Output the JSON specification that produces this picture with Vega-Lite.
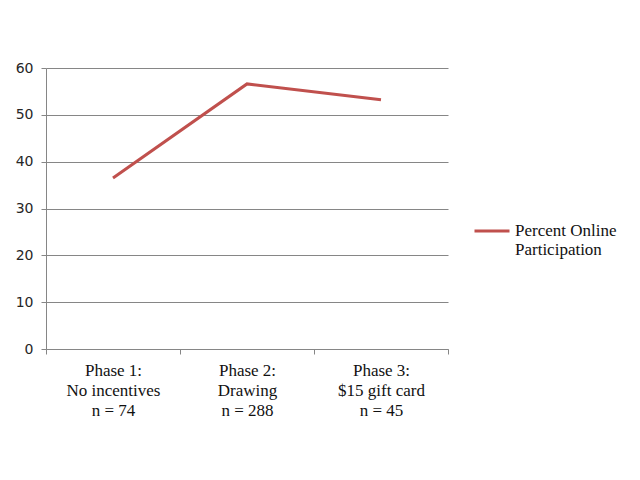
{
  "$schema": "https://vega.github.io/schema/vega-lite/v6.json",
  "width": 402,
  "height": 281,
  "autosize": "none",
  "padding": {"left": 46, "top": 68, "right": 192, "bottom": 131},
  "background": "white",
  "data": {"values": [
    {"phase": "Phase 1", "value": 36.5, "series": "Percent Online Participation"},
    {"phase": "Phase 2", "value": 56.6, "series": "Percent Online Participation"},
    {"phase": "Phase 3", "value": 53.2, "series": "Percent Online Participation"}
  ]},
  "mark": {"type": "line", "strokeWidth": 3},
  "encoding": {
    "x": {
      "field": "phase", "type": "nominal", "sort": null, "title": null,
      "scale": {"paddingInner": 0, "paddingOuter": 0},
      "axis": {
        "labelAngle": 0,
        "tickBand": "extent",
        "grid": false,
        "domainColor": "#868686",
        "tickColor": "#868686",
        "tickSize": 5,
        "labelPadding": 8,
        "labelFont": "Liberation Serif",
        "labelFontSize": 17,
        "labelColor": "#111111",
        "labelLineHeight": 20,
        "labelBaseline": "top",
        "labelExpr": "datum.value == 'Phase 1' ? ['Phase 1:', 'No incentives', 'n = 74'] : datum.value == 'Phase 2' ? ['Phase 2:', 'Drawing', 'n = 288'] : datum.value == 'Phase 3' ? ['Phase 3:', '$15 gift card', 'n = 45'] : ''"
      }
    },
    "y": {
      "field": "value", "type": "quantitative", "title": null,
      "scale": {"domain": [0, 60], "nice": false},
      "axis": {
        "values": [0, 10, 20, 30, 40, 50, 60],
        "gridColor": "#868686",
        "gridWidth": 1,
        "domainColor": "#868686",
        "tickColor": "#868686",
        "tickSize": 5,
        "labelPadding": 8,
        "labelFont": "DejaVu Sans",
        "labelFontSize": 14,
        "labelColor": "#262626"
      }
    },
    "color": {
      "field": "series", "type": "nominal", "title": null,
      "scale": {"range": ["#C0504D"]},
      "legend": {
        "orient": "none",
        "legendX": 427,
        "legendY": 144,
        "symbolType": "stroke",
        "symbolSize": 1225,
        "symbolStrokeWidth": 3,
        "labelFont": "Liberation Serif",
        "labelFontSize": 17,
        "labelColor": "#111111",
        "labelOffset": 4,
        "labelLimit": 200,
        "labelExpr": "['Percent Online', 'Participation']"
      }
    }
  },
  "config": {"view": {"stroke": null}}
}
